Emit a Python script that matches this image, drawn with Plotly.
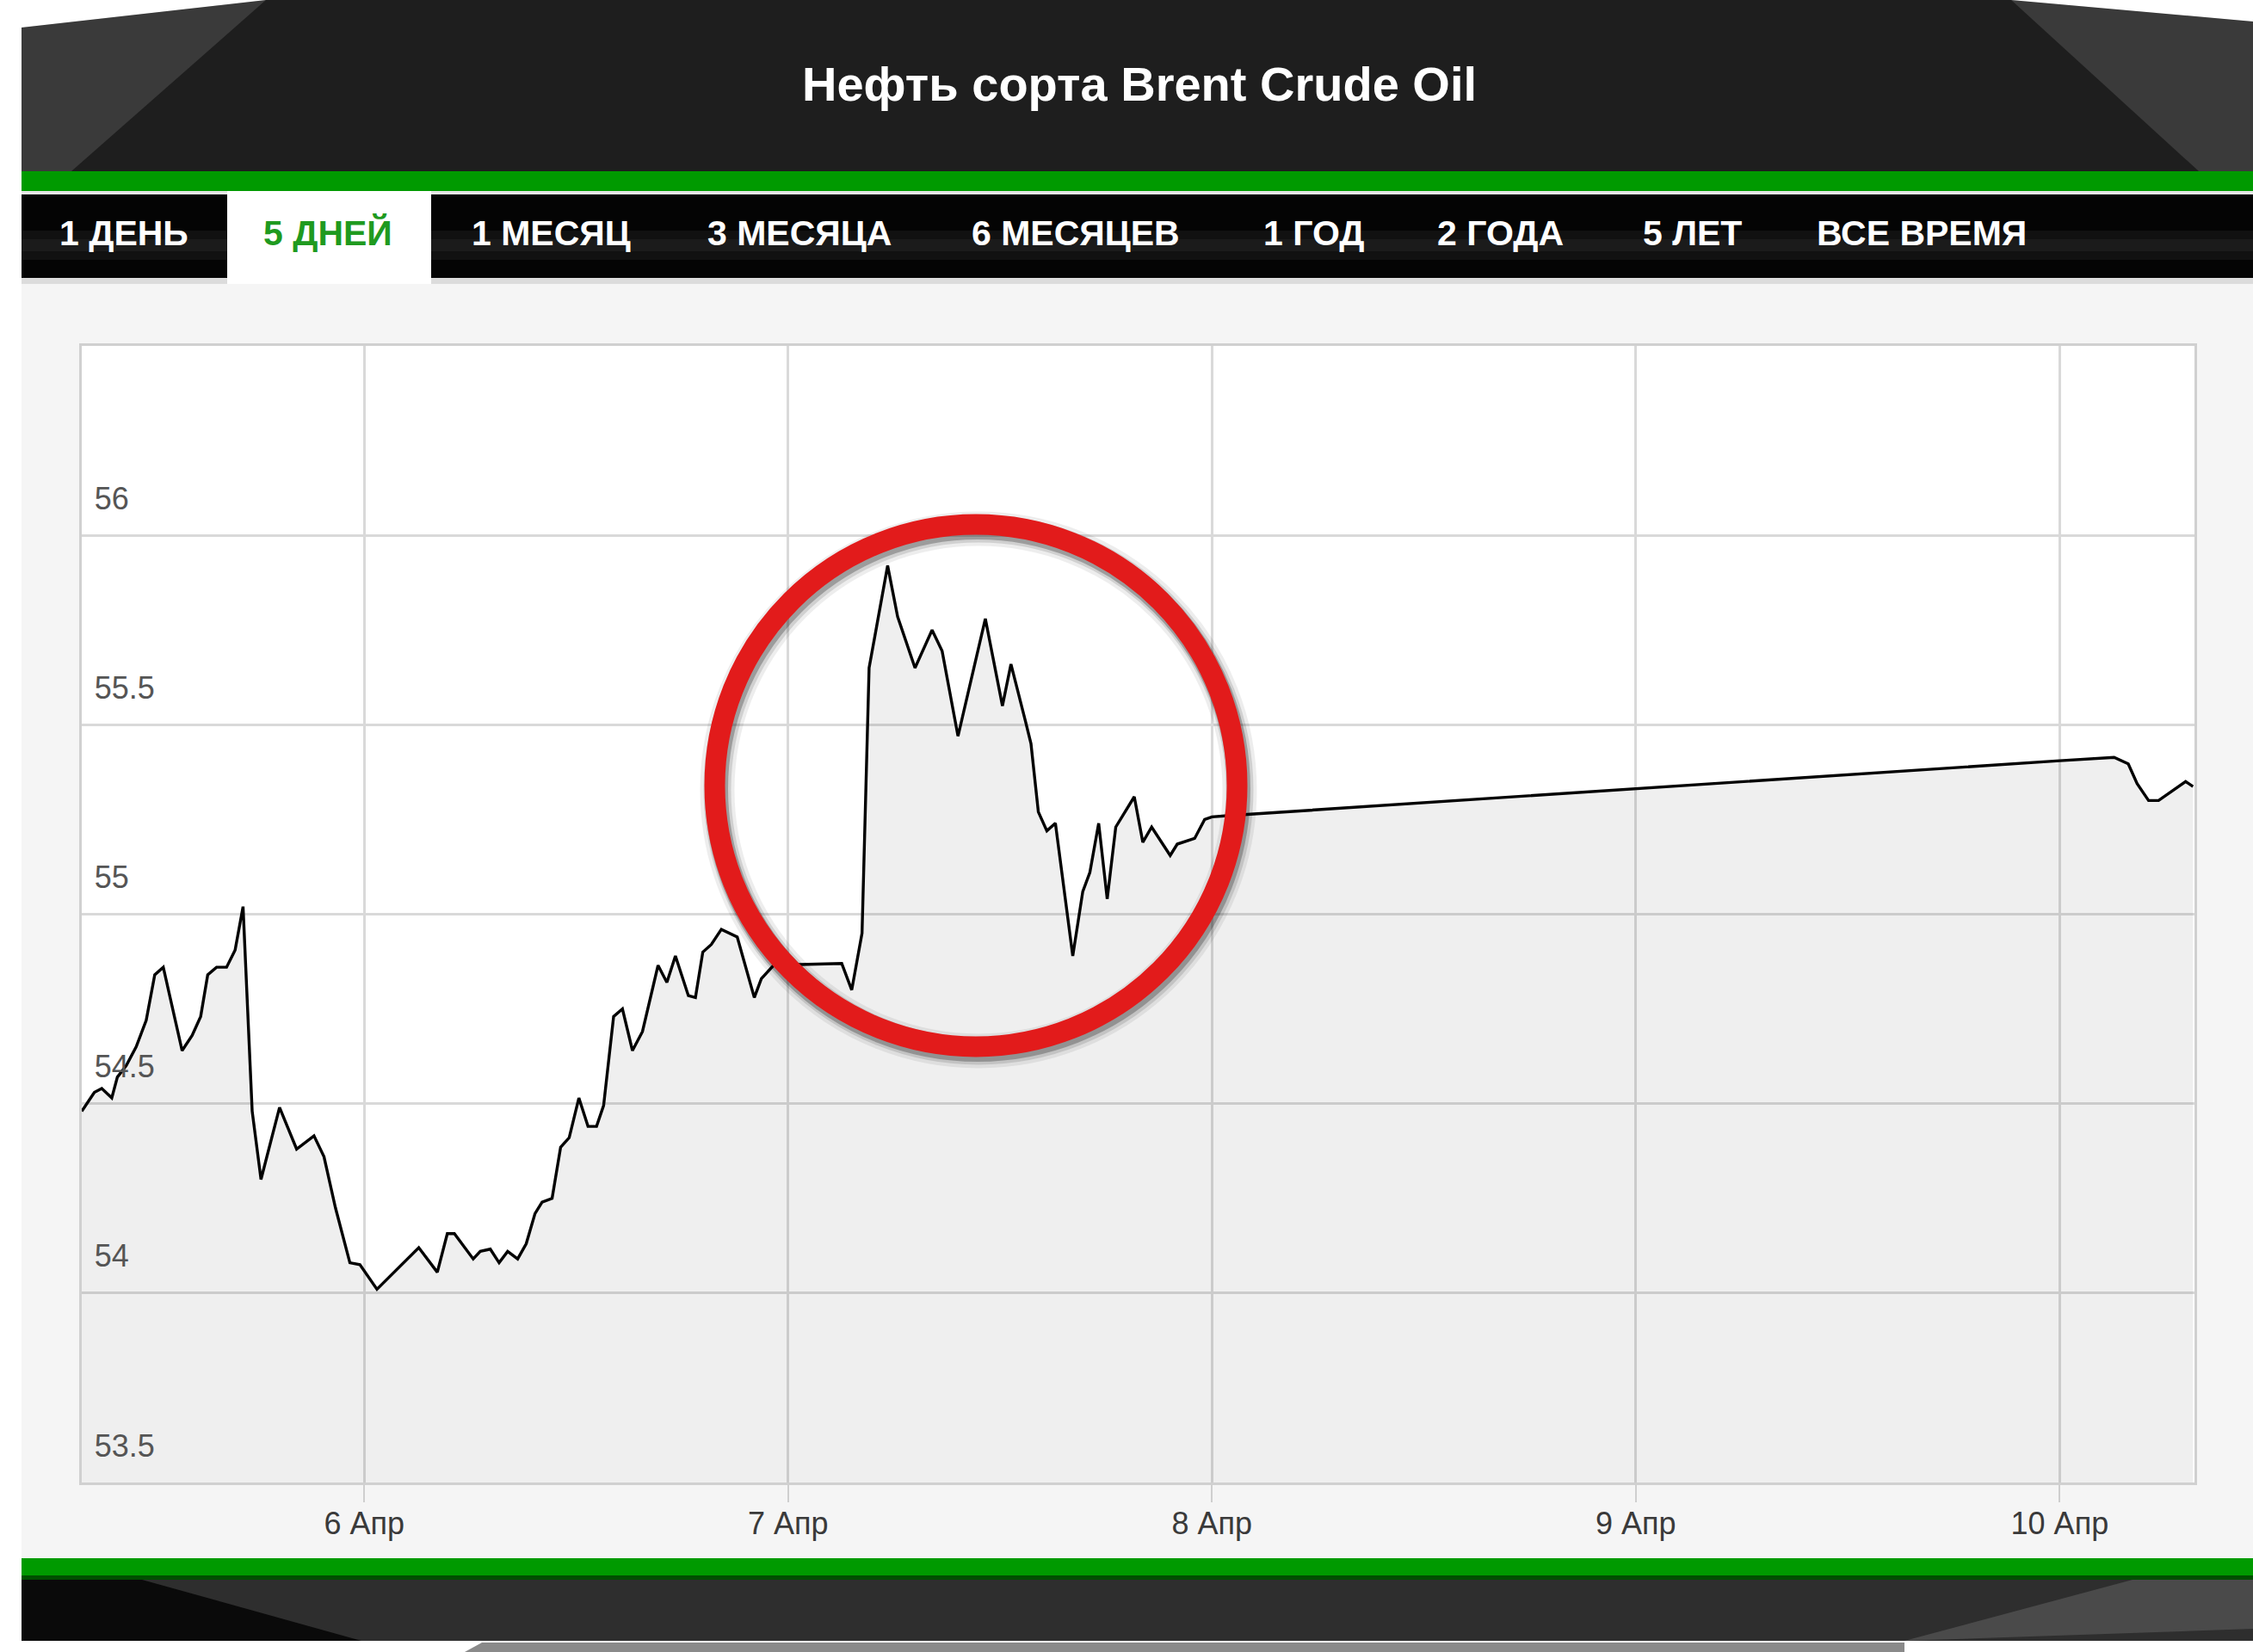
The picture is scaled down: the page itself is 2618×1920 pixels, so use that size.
import plotly.graph_objects as go

# ---------------- data ----------------
times = [
    "2017-04-05 08:00", "2017-04-05 08:43", "2017-04-05 09:08", "2017-04-05 09:42",
    "2017-04-05 10:01", "2017-04-05 10:31", "2017-04-05 11:05", "2017-04-05 11:39",
    "2017-04-05 12:08", "2017-04-05 12:37", "2017-04-05 13:41", "2017-04-05 14:15",
    "2017-04-05 14:44", "2017-04-05 15:08", "2017-04-05 15:38", "2017-04-05 16:12",
    "2017-04-05 16:41", "2017-04-05 17:08", "2017-04-05 17:39", "2017-04-05 18:09",
    "2017-04-05 19:12", "2017-04-05 20:10", "2017-04-05 21:09", "2017-04-05 21:43",
    "2017-04-05 22:22", "2017-04-05 23:11", "2017-04-05 23:45",
    "2017-04-06 00:43", "2017-04-06 03:05", "2017-04-06 04:08", "2017-04-06 04:42",
    "2017-04-06 05:06", "2017-04-06 06:10", "2017-04-06 06:34", "2017-04-06 07:08",
    "2017-04-06 07:38", "2017-04-06 08:07", "2017-04-06 08:41", "2017-04-06 09:10",
    "2017-04-06 09:40", "2017-04-06 10:04", "2017-04-06 10:38", "2017-04-06 11:07",
    "2017-04-06 11:36", "2017-04-06 12:09", "2017-04-06 12:40", "2017-04-06 13:09",
    "2017-04-06 13:33", "2017-04-06 14:07", "2017-04-06 14:37", "2017-04-06 15:11",
    "2017-04-06 15:45", "2017-04-06 16:38", "2017-04-06 17:08", "2017-04-06 17:37",
    "2017-04-06 18:21", "2017-04-06 18:45", "2017-04-06 19:10", "2017-04-06 19:39",
    "2017-04-06 20:13", "2017-04-06 21:07", "2017-04-06 22:05", "2017-04-06 22:29",
    "2017-04-06 23:13",
    "2017-04-07 00:41", "2017-04-07 03:02", "2017-04-07 03:36", "2017-04-07 04:11",
    "2017-04-07 04:35", "2017-04-07 05:38", "2017-04-07 06:12", "2017-04-07 07:11",
    "2017-04-07 08:09", "2017-04-07 08:43", "2017-04-07 09:37", "2017-04-07 11:10",
    "2017-04-07 12:08", "2017-04-07 12:37", "2017-04-07 13:26", "2017-04-07 13:45",
    "2017-04-07 14:10", "2017-04-07 14:39", "2017-04-07 15:08", "2017-04-07 16:07",
    "2017-04-07 16:41", "2017-04-07 17:05", "2017-04-07 17:35", "2017-04-07 18:04",
    "2017-04-07 18:33", "2017-04-07 19:36", "2017-04-07 20:05", "2017-04-07 20:35",
    "2017-04-07 21:38", "2017-04-07 22:02", "2017-04-07 23:01", "2017-04-07 23:35",
    "2017-04-08 00:00", "2017-04-08 00:53",
    "2017-04-10 00:00", "2017-04-10 03:05", "2017-04-10 03:53", "2017-04-10 04:23",
    "2017-04-10 05:02", "2017-04-10 05:36", "2017-04-10 07:08", "2017-04-10 07:33",
]
prices = [
    54.48, 54.53, 54.54, 54.515, 54.57, 54.60, 54.65, 54.72,
    54.84, 54.86, 54.64, 54.68, 54.73, 54.84, 54.86, 54.86,
    54.905, 55.02, 54.48, 54.30, 54.49, 54.38, 54.415, 54.36,
    54.225, 54.08, 54.075,
    54.01, 54.12, 54.055, 54.157, 54.157, 54.09, 54.11, 54.116,
    54.08, 54.11, 54.09, 54.13, 54.21, 54.24, 54.25, 54.385,
    54.41, 54.515, 54.44, 54.44, 54.495, 54.73, 54.75, 54.64,
    54.69, 54.865, 54.82, 54.89, 54.785, 54.78, 54.90, 54.92,
    54.96, 54.94, 54.78, 54.83, 54.867,
    54.867, 54.87, 54.80, 54.95, 55.65, 55.92, 55.785, 55.65,
    55.75, 55.695, 55.47, 55.78, 55.55, 55.66, 55.51, 55.45,
    55.27, 55.22, 55.24, 54.89, 55.06, 55.11, 55.24, 55.04,
    55.23, 55.31, 55.19, 55.23, 55.155, 55.185, 55.20, 55.25,
    55.257, 55.26,
    55.405, 55.414, 55.397, 55.345, 55.30, 55.30, 55.35, 55.337,
]

x_tick_vals = ["2017-04-06", "2017-04-07", "2017-04-08", "2017-04-09", "2017-04-10"]
x_tick_text = ["6 Апр", "7 Апр", "8 Апр", "9 Апр", "10 Апр"]
y_tick_vals = [53.5, 54, 54.5, 55, 55.5, 56]
y_tick_text = ["53.5", "54", "54.5", "55", "55.5", "56"]
x_range = ["2017-04-05 08:00", "2017-04-10 07:38"]
y_range = [53.5, 56.5]

title_text = "Нефть сорта Brent Crude Oil"
tabs = ["1 ДЕНЬ", "5 ДНЕЙ", "1 МЕСЯЦ", "3 МЕСЯЦА", "6 МЕСЯЦЕВ", "1 ГОД", "2 ГОДА", "5 ЛЕТ", "ВСЕ ВРЕМЯ"]
active_tab = "5 ДНЕЙ"

# ---------------- layout geometry ----------------
W, H = 2618, 1920
L, R, T, B = 95, 68, 402, 197
PW, PH = W - L - R, H - T - B


def px(x):
    return (x - L) / PW


def py(y):
    return (H - B - y) / PH


shapes = []


def rect(x0, y0, x1, y1, color, layer="below"):
    shapes.append(dict(type="rect", xref="paper", yref="paper",
                       x0=px(x0), x1=px(x1), y0=py(y1), y1=py(y0),
                       fillcolor=color, line=dict(width=0), layer=layer))


def poly(pts, color, layer="below"):
    d = "M " + " L ".join(f"{px(a):.5f},{py(b):.5f}" for a, b in pts) + " Z"
    shapes.append(dict(type="path", xref="paper", yref="paper", path=d,
                       fillcolor=color, line=dict(width=0), layer=layer))


# left white margin
rect(0, 0, 25, 1920, "white")
# header
rect(25, 0, 2618, 199, "#1e1e1e")
poly([(25, 32), (309, 0), (83, 199), (25, 199)], "#3a3a3a")
poly([(0, 0), (309, 0), (25, 32), (0, 32)], "white")
poly([(2337, 0), (2618, 25), (2618, 199), (2555, 199)], "#3a3a3a")
poly([(2337, 0), (2618, 0), (2618, 25)], "white")
# green bar
rect(25, 199, 2618, 222, "#009a00")
rect(25, 222, 2618, 226, "#e6e6e6")
# tab bar
rect(25, 226, 2618, 323, "#040404")
rect(25, 268, 2618, 302, "#111111")
rect(25, 278, 2618, 292, "#1b1b1b")
rect(25, 323, 2618, 330, "#dcdcdc")
rect(264, 222, 501, 330, "white")
# bottom bands
rect(25, 1811, 2618, 1831, "#009a00")
rect(25, 1831, 2618, 1836, "#004f00")
rect(25, 1836, 2618, 1907, "#2e2e2e")
poly([(25, 1836), (165, 1836), (420, 1907), (25, 1907)], "#0a0a0a")
poly([(2478, 1836), (2618, 1836), (2618, 1893), (2213, 1907)], "#4a4a4a")
rect(0, 1907, 2618, 1920, "white")
poly([(560, 1909), (2213, 1909), (2213, 1920), (540, 1920)], "#8a8a8a")

# red circle with shadow
cx, cy, rr = 1134, 913, 303.5
for dx, dy, w, c in [(3, 5, 40, "rgba(0,0,0,0.07)"), (3, 5, 32, "rgba(0,0,0,0.12)"),
                     (2, 4, 27, "rgba(0,0,0,0.25)")]:
    shapes.append(dict(type="circle", xref="paper", yref="paper",
                       x0=px(cx + dx - rr), x1=px(cx + dx + rr),
                       y0=py(cy + dy + rr), y1=py(cy + dy - rr),
                       line=dict(color=c, width=w), layer="above"))
shapes.append(dict(type="circle", xref="paper", yref="paper",
                   x0=px(cx - rr), x1=px(cx + rr), y0=py(cy + rr), y1=py(cy - rr),
                   line=dict(color="#e21b1b", width=24), layer="above"))

# ---------------- annotations ----------------
annotations = [dict(text=f"<b>{title_text}</b>", xref="paper", yref="paper",
                    x=px(1324), y=py(97), xanchor="center", yanchor="middle",
                    showarrow=False, font=dict(family="Liberation Sans", size=56, color="white"))]
tab_x = [67, 304, 546, 820, 1127, 1466, 1668, 1907, 2109]
for name, tx in zip(tabs, tab_x):
    annotations.append(dict(text=f"<b>{name}</b>", xref="paper", yref="paper",
                            x=px(tx), y=py(271), xanchor="left", yanchor="middle",
                            showarrow=False,
                            font=dict(family="Liberation Sans", size=41,
                                      color="#1f9a1f" if name == active_tab else "white")))

# ---------------- figure ----------------
fig = go.Figure()
fig.add_trace(go.Scatter(x=times, y=prices, mode="lines",
                         line=dict(color="black", width=3.4),
                         fill="tozeroy", fillcolor="rgba(0,0,0,0.063)",
                         showlegend=False, hoverinfo="skip"))

fig.update_layout(
    width=W, height=H,
    margin=dict(l=L, r=R, t=T, b=B, pad=0),
    paper_bgcolor="#f5f5f5", plot_bgcolor="white",
    shapes=shapes, annotations=annotations, showlegend=False,
    xaxis=dict(type="date", range=x_range, tickvals=x_tick_vals, ticktext=x_tick_text,
               ticks="outside", ticklen=20, tickwidth=2, tickcolor="#cfcfcf",
               showgrid=True, gridcolor="#d9d9d9", gridwidth=3,
               showline=True, linecolor="#d0d0d0", linewidth=3, mirror=True,
               zeroline=False, ticklabelstandoff=-6,
               tickfont=dict(family="Liberation Sans", size=36, color="#3a3a3a")),
    yaxis=dict(range=y_range, tickvals=y_tick_vals, ticktext=y_tick_text,
               ticks="", ticklabelposition="inside", ticklabeloverflow="allow",
               ticklabelshift=-43, ticklabelstandoff=19,
               showgrid=True, gridcolor="#d9d9d9", gridwidth=3,
               showline=True, linecolor="#d0d0d0", linewidth=3, mirror=True,
               zeroline=False,
               tickfont=dict(family="Liberation Sans", size=36, color="#555555")),
)

fig.write_html("out.html", config={"displayModeBar": False},
               post_script="document.body.style.margin='0';document.body.style.overflow='hidden';")
